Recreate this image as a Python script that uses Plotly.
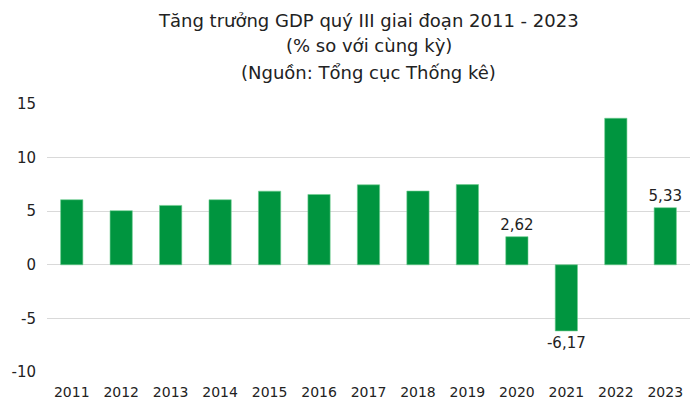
import plotly.graph_objects as go

years = ["2011", "2012", "2013", "2014", "2015", "2016", "2017",
         "2018", "2019", "2020", "2021", "2022", "2023"]
growth = [6.07, 5.05, 5.54, 6.07, 6.87, 6.56, 7.46, 6.88, 7.48, 2.62, -6.17, 13.67, 5.33]
labels = ["", "", "", "", "", "", "", "", "", "2,62", "-6,17", "", "5,33"]
y_ticks = [-10, -5, 0, 5, 10, 15]
y_ticktext = ["-10", "-5", "0", "5", "10", "15"]
title_lines = ["Tăng trưởng GDP quý III giai đoạn 2011 - 2023",
               "(% so với cùng kỳ)",
               "(Nguồn: Tổng cục Thống kê)"]

FONT = "DejaVu Sans"
PLOT_H = 268
title_offsets = [84, 58, 32]  # px above plot top

fig = go.Figure(go.Bar(
    x=years, y=growth, text=labels, textposition="outside",
    constraintext="none",
    textfont=dict(family=FONT, size=15, color="#222222"),
    marker=dict(color="#00953f", line=dict(color="#6fcf90", width=0.6)),
    width=0.45, cliponaxis=False,
))

for line, off in zip(title_lines, title_offsets):
    fig.add_annotation(text=line, xref="paper", yref="paper", x=0.5,
                       y=1 + off / PLOT_H, yanchor="middle",
                       showarrow=False, font=dict(family=FONT, size=18, color="#222222"))

fig.update_layout(
    width=692, height=401,
    margin=dict(l=39, r=10, t=96, b=37, autoexpand=False),
    paper_bgcolor="white", plot_bgcolor="white",
    showlegend=False,
    font=dict(family=FONT, size=14, color="#222222"),
)
fig.update_xaxes(showgrid=False, showline=False, ticks="", tickfont=dict(size=14),
                 ticklabelstandoff=10, automargin=False)
fig.update_yaxes(range=[-10, 15], tickvals=y_ticks, ticktext=y_ticktext, showgrid=True,
                 gridcolor="#d9d9d9", zeroline=True, zerolinecolor="#d9d9d9", zerolinewidth=1,
                 ticks="", ticklabelstandoff=10, tickfont=dict(size=15), automargin=False)

fig.write_html("out.html")
